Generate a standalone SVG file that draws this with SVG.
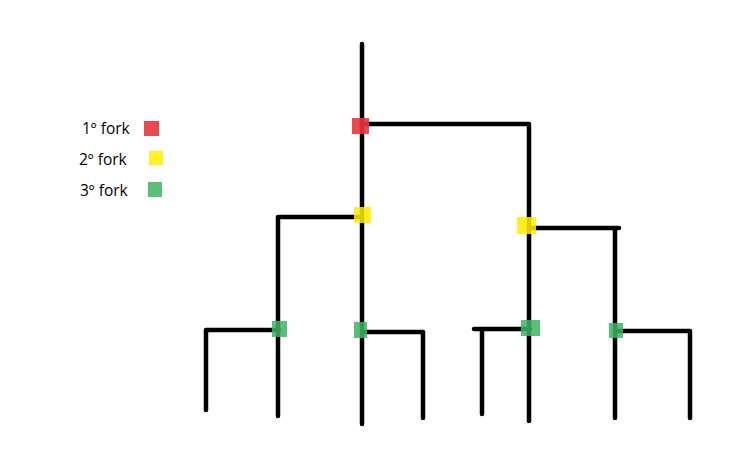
<svg xmlns="http://www.w3.org/2000/svg" width="734" height="462" viewBox="0 0 734 462">
<style>
.ln{stroke:#000;stroke-width:4.5;fill:none;stroke-linecap:round;stroke-linejoin:round}
.lbl{font-family:"Open Sans","Noto Sans",sans-serif;font-size:15.5px;fill:#000}
.red{fill:#e8353f;opacity:0.9}
.yel{fill:#ffee00;opacity:0.85}
.grn{fill:#3db562;opacity:0.85}
</style>
<rect width="734" height="462" fill="#fff"/>
<g id="connectors">
<path class="ln" d="M362,44 V424"/>
<path class="ln" d="M362,124 H529 V421"/>
<path class="ln" d="M362,217 H278 V416"/>
<path class="ln" d="M529,228 H619 M615,228 V418"/>
<path class="ln" d="M279,330 H206 V410"/>
<path class="ln" d="M362,332 H423 V418"/>
<path class="ln" d="M530,329 H474 M482,329 V414"/>
<path class="ln" d="M616,331 H690 V418"/>
</g>
<g id="legend">
<text class="lbl" x="82" y="134">1º fork</text>
<text class="lbl" x="79" y="165">2º fork</text>
<text class="lbl" x="80" y="196">3º fork</text>
<rect class="red" x="144" y="121" width="15" height="15"/>
<rect class="yel" x="149" y="151" width="14" height="14"/>
<rect class="grn" x="148" y="182" width="14" height="15"/>
</g>
<g id="fork1"><rect class="red" x="352" y="118" width="17" height="16"/></g>
<g id="fork2a"><rect class="yel" x="354" y="207" width="17" height="16"/></g>
<g id="fork2b"><rect class="yel" x="517" y="217" width="19" height="17"/></g>
<g id="fork3a"><rect class="grn" x="272" y="321" width="15" height="16"/></g>
<g id="fork3b"><rect class="grn" x="354" y="322" width="13" height="16"/></g>
<g id="fork3c"><rect class="grn" x="521" y="320" width="19" height="16"/></g>
<g id="fork3d"><rect class="grn" x="609" y="323" width="14" height="15"/></g>
</svg>
